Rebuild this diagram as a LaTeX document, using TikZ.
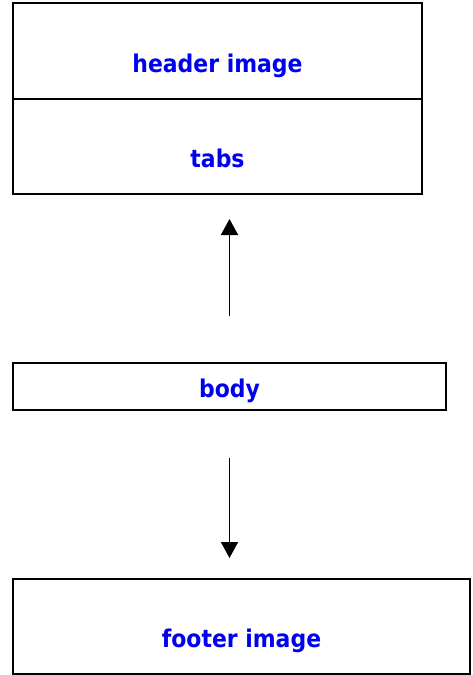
\documentclass[tikz,border=0pt]{standalone}
\usepackage{fontspec}
\setmainfont{DejaVu Sans Condensed}
\usepackage{tikz}
\usetikzlibrary{positioning,arrows.meta}
\usepackage{xcolor}
\definecolor{LabelBlue}{RGB}{0, 0, 240}

\begin{document}
\begin{tikzpicture}[x=1pt,y=1pt,
    box/.style={draw=black,line width=1.8pt,outer sep=0pt,inner sep=0pt},
    lbl/.style={text=LabelBlue,font=\fontsize{24.4}{27}\selectfont\bfseries,anchor=base,inner sep=0pt},
    arr/.style={-{Triangle[length=16pt,width=17pt]},line width=1.8pt}]
        \useasboundingbox (0,0) rectangle (472,-675);
        \node[box,minimum width=409pt,minimum height=96pt,anchor=north west] (hdr) at (13,-3) {};
        \node[box,minimum width=409pt,minimum height=95pt,below=0pt of hdr] (tabs) {};
        \node[box,minimum width=433pt,minimum height=47pt,anchor=north west] (body) at (13,-363) {};
        \node[box,minimum width=457pt,minimum height=95pt,anchor=north west] (foot) at (13,-579) {};
        \node[lbl] (hdrtxt) at ([yshift=-21pt]hdr.center) {header image};
        \node[lbl] (tabstxt) at ([yshift=-20.5pt]tabs.center) {tabs};
        \node[lbl] (bodytxt) at ([yshift=-10.5pt]body.center) {body};
        \node[lbl] (foottxt) at ([yshift=-21pt]foot.center) {footer image};
        \coordinate[above=47pt of body] (uptail);
        \coordinate (uptip) at ([yshift=-25pt]body.north |- tabs.south);
        \coordinate[below=48pt of body] (downtail);
        \coordinate (downtip) at ([yshift=21pt]body.south |- foot.north);
        \draw[arr] (uptail) -- (uptip);
        \draw[arr] (downtail) -- (downtip);
      \end{tikzpicture}
\end{document}
